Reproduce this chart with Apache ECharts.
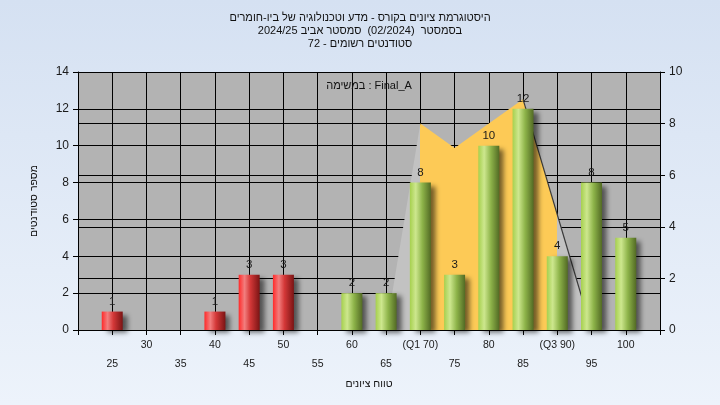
<!DOCTYPE html>
<html><head><meta charset="utf-8">
<script src="https://cdn.jsdelivr.net/npm/echarts@6/dist/echarts.min.js"></script>
<style>html,body{margin:0;padding:0;background:#fff;} #c{width:720px;height:405px;}</style>
</head><body><div id="c"></div>
<script>
const titleLines = ['היסטוגרמת ציונים בקורס - מדע וטכנולוגיה של ביו-חומרים', 'בסמסטר  (02/2024)  סמסטר אביב 2024/25', 'סטודנטים רשומים - 72'];
const legendText = 'במשימה : Final_A';
const yAxisName = 'מספר סטודנטים';
const xAxisName = 'טווח ציונים';
const failScores = [25, 40, 45, 50];
const failCounts = [1, 1, 3, 3];
const passScores = [60, 65, 70, 75, 80, 85, 90, 95, 100];
const passCounts = [2, 2, 8, 3, 10, 12, 4, 8, 5];
const curveScores = [65, 70, 75, 80, 85, 95];
const curveValues = [0, 8.0, 7.05, 8.0, 8.94, 0];
const q1 = 70, q3 = 90;
const xTickValues = [25, 30, 35, 40, 45, 50, 55, 60, 65, 70, 75, 80, 85, 90, 95, 100];
const xTickLabels = ['25', '30', '35', '40', '45', '50', '55', '60', '65', '(Q1 70)', '75', '80', '85', '(Q3 90)', '95', '100'];

const FONT = "'Liberation Sans', 'DejaVu Sans', Arial, sans-serif";
const TXT = '#1a1a1a';

const redGrad = {type: 'linear', x: 0, y: 0, x2: 1, y2: 0, colorStops: [
  {offset: 0, color: '#ff2a2a'}, {offset: 0.28, color: '#f27e7e'}, {offset: 0.55, color: '#d43838'}, {offset: 1, color: '#7a1414'}]};
const greenGrad = {type: 'linear', x: 0, y: 0, x2: 1, y2: 0, colorStops: [
  {offset: 0, color: '#a6d04e'}, {offset: 0.28, color: '#cde78e'}, {offset: 0.6, color: '#8db349'}, {offset: 1, color: '#526a24'}]};
const barShadow = {shadowBlur: 5, shadowOffsetX: 5, shadowOffsetY: 3, shadowColor: 'rgba(0,0,0,0.55)'};
const barLabel = {show: true, position: 'top', distance: 4, color: TXT, fontSize: 11.5, fontFamily: FONT};

const chart = echarts.init(document.getElementById('c'), null, {renderer: 'canvas'});
chart.setOption({
  animation: false,
  backgroundColor: {type: 'linear', x: 0, y: 0, x2: 0, y2: 1, colorStops: [{offset: 0, color: '#d5e1f2'}, {offset: 1, color: '#edf3fb'}]},
  title: {
    text: titleLines.join('\n'), left: 'center', top: 11, padding: 0,
    textStyle: {fontSize: 11, fontWeight: 'normal', color: '#111', lineHeight: 13, fontFamily: FONT}
  },
  graphic: [{type: 'text', x: 369, y: 86, z: 100,
    style: {text: legendText, align: 'center', verticalAlign: 'middle', fill: '#111', font: '11px ' + FONT}}],
  grid: {left: 78, right: 60, top: 72, bottom: 75, show: true, backgroundColor: '#b3b3b3', borderWidth: 0},
  visualMap: {type: 'piecewise', show: false, seriesIndex: 0, dimension: 0,
    pieces: [{lt: q1, color: '#c2c2c2'}, {gte: q1, lte: q3, color: '#fdca56'}, {gt: q3, color: '#c2c2c2'}]},
  xAxis: {
    type: 'value', min: 20, max: 105, interval: 5,
    axisLine: {show: true, lineStyle: {color: '#000', width: 1}},
    axisTick: {show: true, length: 5, lineStyle: {color: '#000'}},
    splitLine: {show: true, lineStyle: {color: '#000', width: 1}},
    axisLabel: {color: TXT, fontSize: 10.5, fontFamily: FONT, margin: 6, lineHeight: 19,
      formatter: v => { const i = xTickValues.indexOf(v); if (i < 0) return ''; return v % 10 === 0 ? xTickLabels[i] : '\n' + xTickLabels[i]; }},
    name: xAxisName, nameLocation: 'middle', nameGap: 45,
    nameTextStyle: {color: '#111', fontSize: 10.5, fontFamily: FONT}
  },
  yAxis: [{
    type: 'value', min: 0, max: 14, interval: 2, position: 'left',
    axisLine: {show: true, lineStyle: {color: '#000'}},
    axisTick: {show: true, length: 5, lineStyle: {color: '#000'}},
    splitLine: {show: true, lineStyle: {color: '#000', width: 1}},
    axisLabel: {color: TXT, fontSize: 12, fontFamily: FONT, margin: 9},
    name: yAxisName, nameLocation: 'middle', nameGap: 38, nameRotate: 90,
    nameTextStyle: {color: '#111', fontSize: 10.5, fontFamily: FONT}
  }, {
    type: 'value', min: 0, max: 10, interval: 2, position: 'right',
    axisLine: {show: true, lineStyle: {color: '#000'}},
    axisTick: {show: true, length: 5, lineStyle: {color: '#000'}},
    splitLine: {show: true, lineStyle: {color: '#000', width: 1}},
    axisLabel: {color: TXT, fontSize: 12, fontFamily: FONT, margin: 9}
  }],
  series: [{
    type: 'line', yAxisIndex: 1, silent: true, symbol: 'none', z: 1,
    data: curveScores.map((x, i) => [x, curveValues[i]]),
    lineStyle: {width: 0, opacity: 0}, areaStyle: {opacity: 1}
  }, {
    type: 'line', yAxisIndex: 1, silent: true, symbol: 'none', z: 1,
    data: curveScores.slice(4).map((x, i) => [x, curveValues[i + 4]]),
    lineStyle: {color: '#3a3a3a', width: 1.2}
  }, {
    type: 'bar', yAxisIndex: 0, barWidth: 21, barGap: '-100%', z: 2,
    data: failScores.map((x, i) => [x, failCounts[i]]),
    itemStyle: Object.assign({color: redGrad}, barShadow), label: barLabel
  }, {
    type: 'bar', yAxisIndex: 0, barWidth: 21, barGap: '-100%', z: 2,
    data: passScores.map((x, i) => [x, passCounts[i]]),
    itemStyle: Object.assign({color: greenGrad}, barShadow), label: barLabel
  }]
});
</script></body></html>
